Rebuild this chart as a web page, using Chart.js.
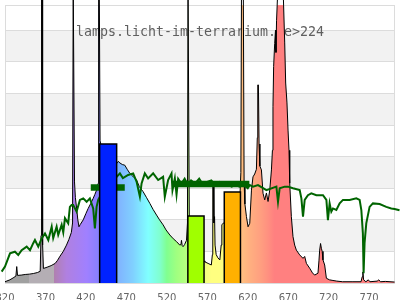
<!DOCTYPE html>
<html><head><meta charset="utf-8">
<script src="https://cdn.jsdelivr.net/npm/chart.js@4"></script>
<style>html,body{margin:0;padding:0;background:#fff;overflow:hidden}</style>
</head><body>
<canvas id="c" width="400" height="300"></canvas>
<script>
const titleText = 'lamps.licht-im-terrarium.de>224';
const tickValues = [320,370,420,470,520,570,620,670,720,770];

// lamp spectrum (wavelength nm / relative value)
const spectrumNm = [320,326,330,333.5,334.5,335.5,340,345,350,355,360,363.5,364.5,365.2,365.8,366.5,367.5,372,377,382,385,388,392,396,399,402,403.5,404.3,405.2,405.9,407,408.5,410,411.4,413,416.7,420,422.8,426,429,431,433.2,435,435.7,436.5,437.5,440,450,456,458,460,462,465,468,471,474.3,478,482.6,486,490.7,495,499,503,507.3,511,515.4,519,523.7,528,532,536,537.5,538.1,539,540.1,542,544.3,545.5,546.2,547,547.8,550,560,566,567,571,575,576.3,576.8,577.6,578.2,579,579.6,581,583,585.5,587.2,588,590,595,605,610,611.5,612.3,614.5,615.5,616.5,618.4,620.4,622.5,624.6,626.5,628.6,630.7,631.8,632.4,633.2,634,635,636.9,638.9,641,643.1,645.1,647.2,649.3,650.5,651.2,652,653.3,654.3,654.9,655.6,657.5,663.5,665.7,666.9,668.5,669.8,671,671.9,673.9,675.9,678,680.1,684.2,688.3,690.4,692.5,696.5,700,702.7,706.8,708,708.9,710,711,712,713,715.1,717.2,721,725.3,730,737.3,750,760,761.5,762.3,763.2,766,769,771,780,782,784,790,801.5];
const spectrumVal = [0.04,0.1,0.16,0.22,0.52,0.24,0.25,0.27,0.28,0.3,0.33,0.37,1.5,9.5,9.5,1.2,0.46,0.5,0.55,0.62,0.72,0.85,1.0,1.2,1.38,1.6,1.9,9.5,9.5,3.2,2.7,2.37,2.0,1.78,1.85,2.0,2.2,2.36,2.52,2.68,2.8,2.94,3.15,9.5,9.5,4.5,4.2,4.0,3.85,3.79,3.85,3.8,3.75,3.73,3.6,3.47,3.38,3.26,3.05,2.89,2.7,2.52,2.33,2.15,2.0,1.84,1.68,1.52,1.4,1.31,1.2,1.22,1.35,1.18,1.15,1.22,1.35,1.9,9.5,9.5,1.8,1.0,0.75,0.7,0.67,0.62,0.57,0.9,3.1,3.1,1.9,2.1,1.2,0.9,0.8,0.73,1.2,1.84,1.9,2.0,2.2,2.5,3.5,9.5,9.5,3.2,2.5,2.1,1.78,1.89,2.94,3.36,3.45,3.6,4.6,6.27,6.27,4.4,3.7,3.58,2.84,2.63,2.85,2.58,2.94,3.58,4.2,5.58,6.85,7.58,8.0,7.3,8.3,9.5,9.5,7.6,6.33,5.7,4.84,4.2,3.16,2.1,1.47,1.2,1.04,0.89,0.78,0.84,0.62,0.47,0.32,0.25,0.31,0.7,1.04,1.25,1.1,1.0,0.73,0.57,0.15,0.1,0.08,0.06,0.04,0.04,0.04,0.2,0.35,0.1,0.04,0.1,0.04,0.06,0.1,0.04,0.05,0.03];

// reference (daylight) curve
const sunNm = [313.8,315.9,320,326.2,332.3,336.4,340.6,346.8,350.9,354.9,357,361.1,365.3,369.4,373.5,377.7,379.6,383.8,385.8,390,392,394.1,398.1,400.2,402.3,404.3,408.5,412.6,416.7,420.9,424.9,429,431.1,433.2,435.2,447,457.9,462,465.7,472.2,478.4,482.6,486.7,488.8,492.8,496.9,503.1,509.3,515.4,517.5,521.6,525.8,527,529.9,532,534,538,542,546,550,555,560,565,570,575,580,585,590,595,600,605,610,615,620,622.5,626.5,632.7,643.1,655.4,657.4,659.5,665.7,669.8,675.9,684.2,686.3,688.3,690.4,694.4,698.6,704.8,713,717.2,719.1,721.2,723.3,725.3,729.5,733.6,737.7,745.9,754.2,758.3,760.4,762.3,763.2,764.4,766.5,770.6,774.7,783,791.2,797.4,801.5,807.6];
const sunVal = [0.31,0.36,0.52,0.94,0.99,0.89,1.04,1.15,1.04,1.26,1.36,1.15,1.41,1.57,1.36,1.78,1.42,1.78,1.52,1.84,1.6,2.05,1.89,2.41,2.47,2.47,2.26,2.63,2.68,2.57,2.68,2.36,1.73,2.41,2.63,3.2,3.36,3.47,3.32,3.42,3.47,3.21,2.73,3.15,3.47,3.31,3.47,3.26,3.36,2.73,3.26,3.47,2.94,3.31,2.8,3.3,3.15,3.3,3.1,3.25,3.15,3.3,3.1,3.2,3.25,3.1,3.2,3.1,3.15,3.05,3.1,3.05,3.1,3.0,3.1,3.05,3.1,2.94,3.05,2.57,3.0,3.05,3.05,3.0,2.94,2.68,2.1,2.63,2.78,2.84,2.78,2.78,2.63,1.99,2.52,2.26,2.36,2.31,2.52,2.63,2.63,2.68,2.63,2.31,1.57,0.31,1.27,1.89,2.41,2.52,2.5,2.41,2.36,2.34,2.3];

// band averages of the reference curve
const avgStart = [426, 527];
const avgEnd = [468, 622];
const avgValue = [3.02, 3.13];

// lamp band bars
const bandStart = [437, 546, 591];
const bandEnd = [458, 566, 611];
const bandValue = [4.4, 2.12, 2.88];

// styles
const bandColors = ['#0022ff', '#a0ff00', '#ffb000'];
const fillStops = [[320,'#a0a0a0'],[350,'#a0a0a0'],[350,'#b4aeb4'],[381,'#b4aeb4'],[381,'#b080b0'],[396,'#b080e0'],[421,'#a080ff'],[436,'#8680ff'],[458,'#80b0ff'],[478,'#80d0ff'],[497,'#80ffff'],[511,'#80ffd0'],[520,'#80ff90'],[532,'#a0ff80'],[545,'#b8ff80'],[567,'#f0ff80'],[575,'#ffff80'],[592,'#ffff80'],[612,'#ffc080'],[622,'#ffb080'],[635,'#ffa080'],[645,'#ff9080'],[653,'#ff8080'],[802,'#ff8080']];

const X_MIN = 320, X_MAX = 802, Y_MAX = 8.8;

function pts(xs, ys){ return xs.map((x,i)=>({x:x, y:ys[i]})); }

const datasets = [];
bandStart.forEach((s,i)=>{
  datasets.push({
    data: [{x:s,y:0},{x:s,y:bandValue[i]},{x:bandEnd[i],y:bandValue[i]},{x:bandEnd[i],y:0}],
    borderColor:'#000', borderWidth:1.5, backgroundColor: bandColors[i], fill:'origin',
    pointRadius:0, tension:0, order:0
  });
});
avgStart.forEach((s,i)=>{
  datasets.push({
    data: [{x:s,y:avgValue[i]},{x:avgEnd[i],y:avgValue[i]}],
    borderColor:'#006400', borderWidth:6.5, fill:false, pointRadius:0, order:1, borderCapStyle:'butt'
  });
});
datasets.push({
  data: pts(sunNm, sunVal), borderColor:'#006400', borderWidth:2, fill:false,
  pointRadius:0, tension:0, order:2, clip:{left:6,top:5,right:6,bottom:0}
});
datasets.push({
  data: pts(spectrumNm, spectrumVal), borderColor:'#000', borderWidth:1, fill:'origin',
  pointRadius:0, tension:0, order:3, clip:{left:0,top:5,right:0,bottom:0},
  backgroundColor: (c) => {
    const ch = c.chart; if (!ch.chartArea) return '#ccc';
    const xs = ch.scales.x;
    const p0 = xs.getPixelForValue(X_MIN), p1 = xs.getPixelForValue(X_MAX);
    const g = ch.ctx.createLinearGradient(p0,0,p1,0);
    fillStops.forEach(([nm,col])=>g.addColorStop((nm-X_MIN)/(X_MAX-X_MIN), col));
    return g;
  }
});

const decor = {
  id:'decor',
  beforeDraw(chart){
    const {ctx, chartArea:a, scales:{y}} = chart;
    ctx.save();
    ctx.fillStyle = '#ffffff';
    ctx.fillRect(0,0,chart.width,chart.height);
    ctx.fillStyle = '#f2f2f2';
    for (let v=1; v<Y_MAX; v+=2){
      const top = y.getPixelForValue(Math.min(v+1,Y_MAX)), bot = y.getPixelForValue(v);
      ctx.fillRect(a.left, top, a.right-a.left, bot-top);
    }
    ctx.restore();
  },
  beforeDatasetsDraw(chart){
    const {ctx, chartArea:a} = chart;
    ctx.save();
    ctx.strokeStyle = '#dcdcdc'; ctx.lineWidth = 1;
    ctx.strokeRect(Math.round(a.left)+0.5, Math.round(a.top)+0.5, Math.round(a.right-a.left)-1, Math.round(a.bottom-a.top));
    ctx.fillStyle = '#5f5f5f';
    ctx.font = '13.3px "DejaVu Sans Mono", monospace';
    ctx.textAlign = 'center'; ctx.textBaseline = 'alphabetic';
    ctx.fillText(titleText, (a.left+a.right)/2, a.top+31);
    ctx.restore();
  }
};

new Chart(document.getElementById('c'), {
  type:'line',
  data:{ datasets },
  plugins:[decor],
  options:{
    responsive:false, animation:false, devicePixelRatio:1,
    layout:{ padding:{left:5,right:5,top:5,bottom:0}, autoPadding:false },
    plugins:{ legend:{display:false}, tooltip:{enabled:false}, title:{display:false} },
    elements:{ line:{ borderJoinStyle:'miter' } },
    scales:{
      x:{ type:'linear', min:X_MIN, max:X_MAX,
          grid:{display:false, drawTicks:false}, border:{display:false},
          afterBuildTicks:(ax)=>{ ax.ticks = tickValues.map(v=>({value:v})); },
          afterFit:(ax)=>{ ax.height = 17; ax.paddingLeft = 0; ax.paddingRight = 0; },
          ticks:{ autoSkip:false, maxRotation:0, padding:9, color:'#666',
                  font:{family:'"DejaVu Sans", sans-serif', size:10},
                  callback:(v)=>String(v) } },
      y:{ type:'linear', min:0, max:Y_MAX,
          grid:{ color:'#dcdcdc', drawTicks:false }, border:{display:false},
          afterFit:(ax)=>{ ax.width = 0; ax.paddingTop = 0; ax.paddingBottom = 0; },
          ticks:{ display:false, stepSize:1 } }
    }
  }
});
</script>
</body></html>
